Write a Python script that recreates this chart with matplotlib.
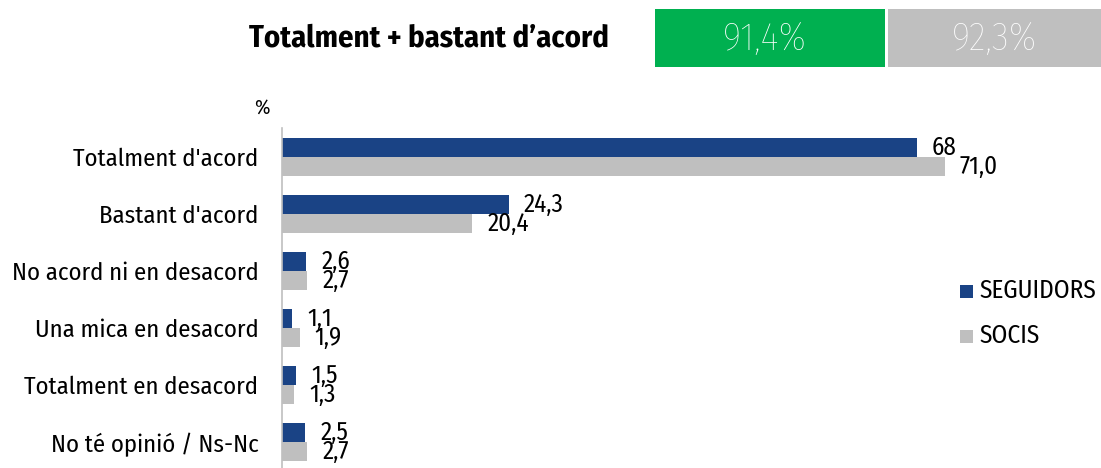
import matplotlib
matplotlib.use("Agg")
import matplotlib.pyplot as plt
from matplotlib.patches import Rectangle

FONT = "Fira Sans Condensed"
plt.rcParams['font.family'] = [FONT, 'DejaVu Sans']

categories = ["Totalment d'acord", "Bastant d'acord", "No acord ni en desacord",
              "Una mica en desacord", "Totalment en desacord", "No té opinió / Ns-Nc"]
seguidors = [68, 24.3, 2.6, 1.1, 1.5, 2.5]
socis = [71.0, 20.4, 2.7, 1.9, 1.3, 2.7]
seg_labels = ["68", "24,3", "2,6", "1,1", "1,5", "2,5"]
soc_labels = ["71,0", "20,4", "2,7", "1,9", "1,3", "2,7"]
title = "Totalment + bastant d’acord"
box_values = ["91,4%", "92,3%"]
series_names = ["SEGUIDORS", "SOCIS"]

BLUE = "#1A4385"
GREY = "#BFBFBF"
GREEN = "#00B050"

W, H = 1101, 468
fig = plt.figure(figsize=(W/100, H/100), dpi=100)

left, right, top, bottom = 282, 1029, 128, 468
ax = fig.add_axes([left/W, 1 - bottom/H, (right-left)/W, (bottom-top)/H])
ax.set_xlim(0, 80)
ax.set_ylim(5.456, -0.509)
h = 1/3
y = list(range(len(categories)))
ax.barh([i - h/2 for i in y], seguidors, height=h, color=BLUE)
ax.barh([i + h/2 for i in y], socis, height=h, color=GREY)
VFS = 18
CFS = 17.8
for i in y:
    ax.annotate(seg_labels[i], (seguidors[i], i - h/2), xytext=(15, 0), textcoords='offset pixels',
                ha='left', va='center', fontsize=VFS, color='black')
    ax.annotate(soc_labels[i], (socis[i], i + h/2), xytext=(15, 0), textcoords='offset pixels',
                ha='left', va='center', fontsize=VFS, color='black')
ax.set_yticks(y)
ax.set_yticklabels(categories, fontsize=CFS)
ax.tick_params(axis='y', length=0, pad=17)
ax.set_xticks([])
for s in ['top', 'right', 'bottom']:
    ax.spines[s].set_visible(False)
ax.spines['left'].set_color('#BFBFBF')
ax.spines['left'].set_linewidth(1.2)

fig.text(262/W, 1 - 108/H, "%", ha='center', va='center', fontsize=15)

fig.text(429/W, 1 - 38/H, title, ha='center', va='center', fontsize=22, fontweight='bold')
fig.patches.append(Rectangle((655/W, 1 - 67/H), 230/W, 58/H, transform=fig.transFigure,
                             facecolor=GREEN, edgecolor='none'))
fig.patches.append(Rectangle((888/W, 1 - 67/H), 213/W, 58/H, transform=fig.transFigure,
                             facecolor=GREY, edgecolor='none'))
fig.text(765/W, 1 - 39/H, box_values[0], ha='center', va='center', fontsize=28.5, color='white', fontweight='light')
fig.text(994/W, 1 - 39/H, box_values[1], ha='center', va='center', fontsize=28.5, color='white', fontweight='light')

for k, (name, col) in enumerate(zip(series_names, [BLUE, GREY])):
    yc = 291 + 45*k
    fig.patches.append(Rectangle((960/W, 1 - (yc+7)/H), 13/W, 13/H, transform=fig.transFigure,
                                 facecolor=col, edgecolor='none'))
    fig.text(979/W, 1 - yc/H, name, ha='left', va='center', fontsize=18.2)

fig.savefig("out.png", dpi=100)
